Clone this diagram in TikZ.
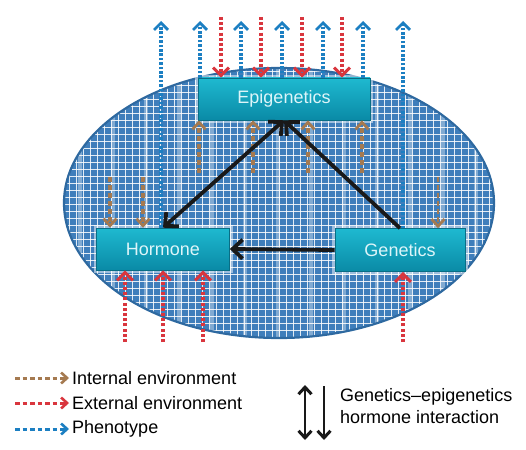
\documentclass[tikz,border=0pt]{standalone}
\usepackage{fontspec}
\setmainfont{Liberation Sans}
\usetikzlibrary{arrows.meta}

\definecolor{cellblue}{HTML}{3F7EBB}
\definecolor{rimblue}{HTML}{2E69A0}
\definecolor{boxtop}{HTML}{1EB9D0}
\definecolor{boxbot}{HTML}{0A8AA6}
\definecolor{boxtext}{HTML}{DDF5F9}
\definecolor{intbrown}{HTML}{A57A50}
\definecolor{extred}{HTML}{D9363E}
\definecolor{phenblue}{HTML}{1C7FC2}

\begin{document}
\begin{tikzpicture}[x=1pt,y=-1pt,font=\fontsize{18}{22}\selectfont,
    >={Straight Barb[length=10pt,width=19pt]},
    box/.style={rectangle,draw=boxbot!80!black,line width=0.6pt,inner sep=0pt,
        top color=boxtop,bottom color=boxbot,text=boxtext,
        preaction={draw=white,line width=6pt,opacity=0.5}},
    mesh/.style={white,line width=0.7pt,opacity=0.85},
    pheno/.style={draw=phenblue,line width=3.4pt,dash pattern=on 2.6pt off 1.8pt,
        -{Straight Barb[length=7pt,width=14pt,line width=2.8pt]}},
    extern/.style={draw=extred,line width=3.6pt,dash pattern=on 3pt off 2.2pt,
        -{Straight Barb[length=8pt,width=16pt,line width=3pt]}},
    intern/.style={draw=intbrown,line width=3.4pt,dash pattern=on 5pt off 3pt,
        -{Straight Barb[length=7pt,width=13pt,line width=2.8pt]}},
    internthin/.style={intern,line width=2pt},
    inter/.style={draw=black!90,line width=3.8pt},
    keyline/.style={line width=3pt,dash pattern=on 4.5pt off 3pt,
        -{Straight Barb[length=6pt,width=11pt,line width=2.6pt]}},
    twoway/.style={line width=2.8pt,black!90,
        {Straight Barb[length=7pt,width=13pt,line width=3pt]}-{Straight Barb[length=7pt,width=13pt,line width=3pt]}},
    key/.style={anchor=west,inner sep=3pt}]
\useasboundingbox (0,0) rectangle (526,449);

% cell
\begin{scope}
    \clip (279,203) ellipse [x radius=215, y radius=135];
    \fill[cellblue] (60,60) rectangle (500,345);
    \foreach \x in {62,69,...,500} \draw[mesh] (\x,60) -- (\x,345);
    \foreach \y in {64,71,...,345} \draw[mesh] (60,\y) -- (500,\y);
    \foreach \x in {80,113,...,480} \fill[white,opacity=0.35] (\x-2,60) rectangle (\x+2,345);
\end{scope}
\draw[rimblue,line width=2.2pt] (279,203) ellipse [x radius=215, y radius=135];

\node[box,minimum width=172pt,minimum height=42pt] (1) at (284,99) {Epigenetics};
\node[box,minimum width=133pt,minimum height=42pt] (2) at (163,249) {Hormone};
\node[box,minimum width=130pt,minimum height=43pt] (3) at (400,250) {Genetics};

% phenotype
\foreach \x in {200,241,282,323,363} {
    \coordinate (p\x) at (\x,21);
    \draw[pheno] (1.north -| p\x) -- (p\x);
}
\coordinate (p161) at (161,21);
\coordinate (p403) at (403,21);
\draw[pheno] (2.north -| p161) -- (p161);
\draw[pheno] (3.north -| p403) -- (p403);

% external environment
\foreach \x in {221,261,302,342} {
    \coordinate (q\x) at (\x,17);
    \draw[extern] (q\x) -- (1.north -| q\x);
}
\foreach \x in {125,163,203} {
    \coordinate (r\x) at (\x,342);
    \draw[extern] (r\x) -- (2.south -| r\x);
}
\coordinate (r403) at (403,342);
\draw[extern] (r403) -- (3.south -| r403);

% internal environment
\foreach \x in {199,253,308,362} {
    \coordinate (b\x) at (\x,173);
    \draw[intern] (b\x) -- (1.south -| b\x);
}
\foreach \x in {110,143} {
    \coordinate (d\x) at (\x,177);
    \draw[intern] (d\x) -- (2.north -| d\x);
}
\coordinate (d438) at (438,177);
\draw[internthin] (d438) -- (3.north -| d438);

\path[inter]
    (2.north) edge[<->] (1.south)
    (3.north) edge[->] (1.south)
    (3.west) edge[->] (2.east)
;

% legend
\node[key] (4) at (69,378) {Internal environment};
\node[key] (5) at (69,403) {External environment};
\node[key] (6) at (69,429) {Phenotype};
\coordinate (k4) at (15,378);
\coordinate (k5) at (15,403);
\coordinate (k6) at (15,429);
\draw[keyline,intbrown] (k4) -- (4.west);
\draw[keyline,extred] (k5) -- (5.west);
\draw[keyline,phenblue] (k6) -- (6.west);

\coordinate (u1) at (305,385);
\coordinate (u2) at (305,440);
\coordinate (v1) at (324,386);
\coordinate (v2) at (324,440);
\draw[twoway] (u1) -- (u2);
\draw[twoway,-{Straight Barb[length=7pt,width=13pt,line width=3pt]}] (v1) -- (v2);
\node[key,align=left] (7) at (337,406) {Genetics--epigenetics\\hormone interaction};
\end{tikzpicture}
\end{document}
